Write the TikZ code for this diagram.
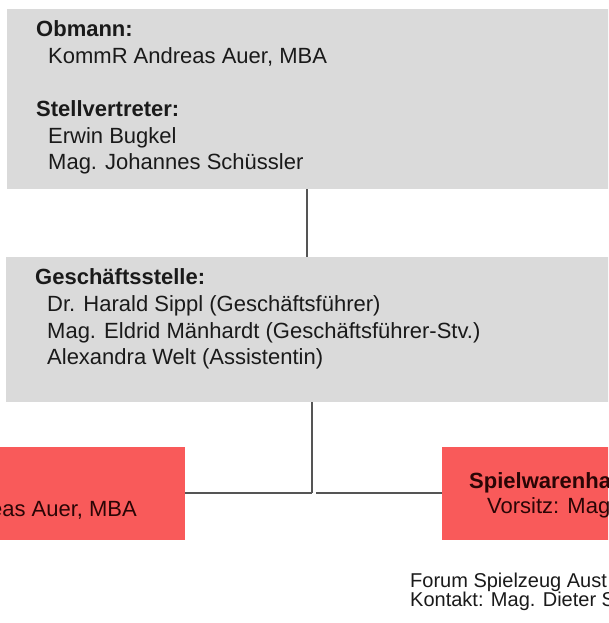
\documentclass[tikz,border=0pt]{standalone}
\usepackage{fontspec}
\setmainfont{Liberation Sans}
\definecolor{boxgray}{HTML}{DADADA}
\definecolor{boxred}{HTML}{F95A5A}
\definecolor{linegray}{HTML}{555555}
\definecolor{txt}{HTML}{1A1A1A}
\definecolor{redtxt}{HTML}{2A0505}
\begin{document}
\begin{tikzpicture}[x=1pt,y=-1pt,
  graybox/.style={fill=boxgray,draw=none,anchor=north west,inner sep=0pt},
  redbox/.style={fill=boxred,draw=none,anchor=north west,inner sep=0pt},
  lbl/.style={anchor=base west,inner sep=0pt,text=txt,font=\fontsize{22}{26}\selectfont},
  rlbl/.style={inner sep=0pt,text=redtxt,font=\fontsize{22}{26}\selectfont},
  foot/.style={anchor=base west,inner sep=0pt,text=txt,font=\fontsize{20}{19}\selectfont},
  conn/.style={draw=linegray,line width=2pt}]
\useasboundingbox (0,0) rectangle (608,623);
\clip (0,0) rectangle (608,623);
\fill[white] (0,0) rectangle (608,623);
% boxes
\node[graybox,minimum width=620pt,minimum height=180pt] (top) at (7,9) {};
\node[graybox,minimum width=620pt,minimum height=145pt] (mid) at (6,257) {};
\node[redbox,minimum width=200pt,minimum height=93pt] (left) at (-15,447) {};
\node[redbox,minimum width=200pt,minimum height=93pt] (right) at (442,447) {};
% connector positions
\coordinate (c1) at (307,0);
\coordinate (c2) at (312,0);
\coordinate (j) at (312,493);
\coordinate (jr) at (316,493);
\draw[conn] (top.south -| c1) -- (mid.north -| c1);
\draw[conn] (mid.south -| c2) -- (j);
\draw[conn] (left.east |- j) -- (j);
\draw[conn] (jr) -- (right.west |- jr);
% top box text
\node[lbl,font=\fontsize{22}{26}\selectfont\bfseries] (t1) at (36,37) {Obmann:};
\node[lbl] (t2) at (48,64) {KommR Andreas Auer, MBA};
\node[lbl,font=\fontsize{22}{26}\selectfont\bfseries] (t3) at (36,117) {Stellvertreter:};
\node[lbl] (t4) at (48,143) {Erwin Bugkel};
\node[lbl] (t5) at (48,169) {Mag. Johannes Schüssler};
% middle box text
\node[lbl,font=\fontsize{22}{26}\selectfont\bfseries] (m1) at (35,284) {Geschäftsstelle:};
\node[lbl] (m2) at (47,311) {Dr. Harald Sippl (Geschäftsführer)};
\node[lbl] (m3) at (47,338) {Mag. Eldrid Mänhardt (Geschäftsführer-Stv.)};
\node[lbl] (m4) at (47,364) {Alexandra Welt (Assistentin)};
% red box text
\node[rlbl,anchor=base east] (l1) at (137,516) {eas Auer, MBA};
\node[rlbl,anchor=base west,font=\fontsize{22}{26}\selectfont\bfseries] (r1) at (469,488) {Spielwarenha};
\node[rlbl,anchor=base west] (r2) at (487,513) {Vorsitz: Mag};
% footer
\node[foot] (f1) at (410,587) {Forum Spielzeug Aust};
\node[foot] (f2) at (410,606) {Kontakt: Mag. Dieter S};
\end{tikzpicture}
\end{document}
